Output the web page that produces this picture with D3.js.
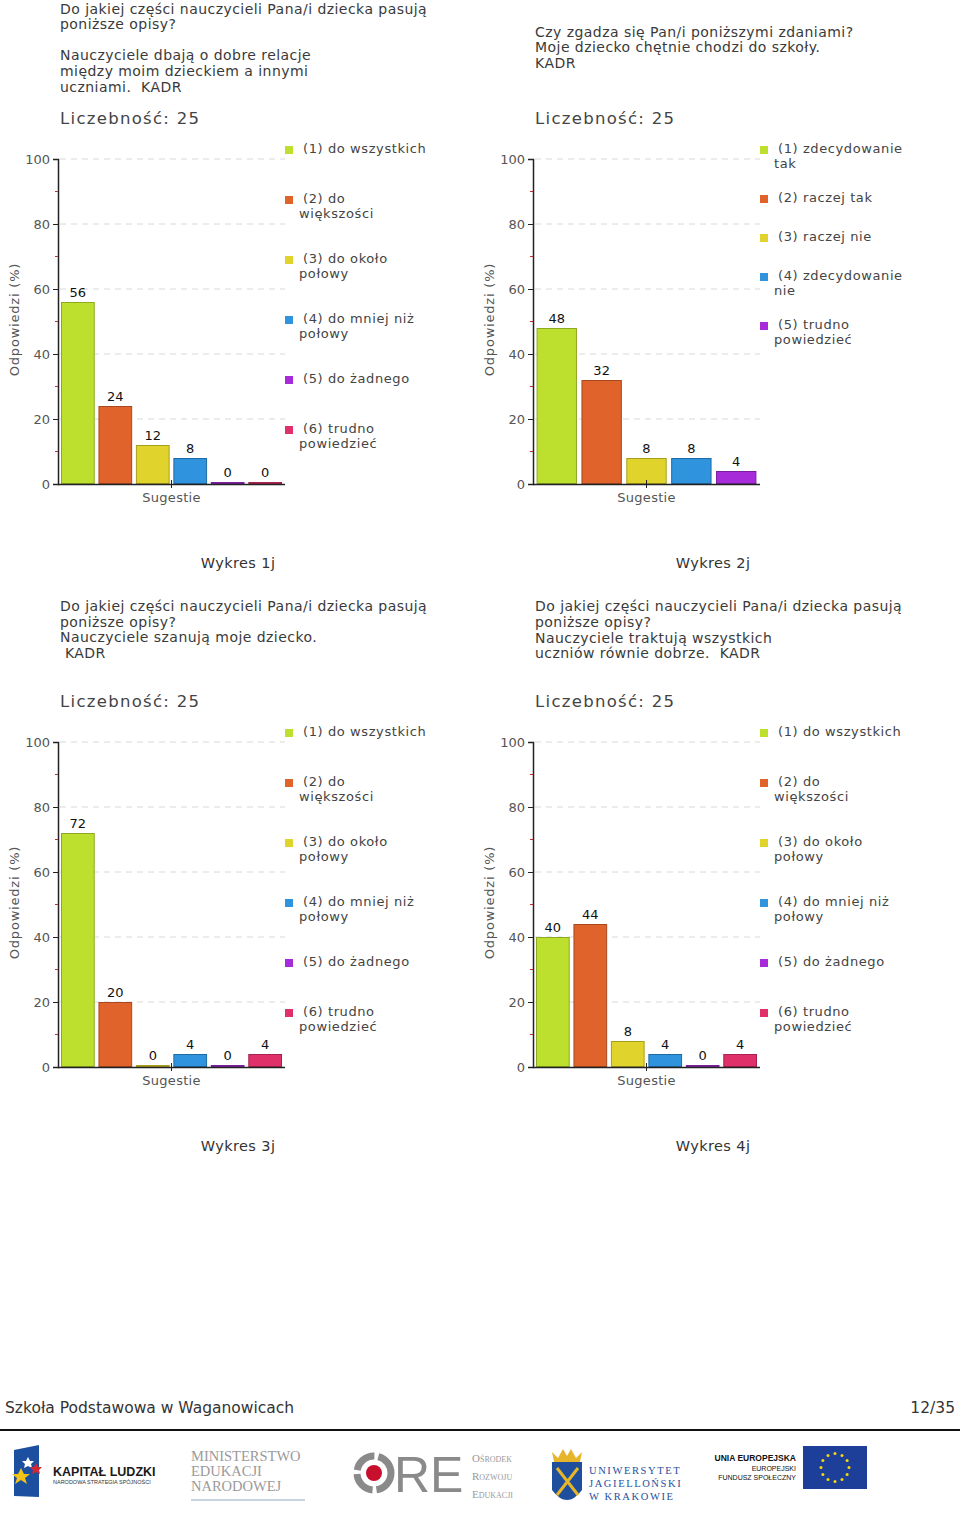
<!DOCTYPE html>
<html><head><meta charset="utf-8">
<script src="https://cdn.jsdelivr.net/npm/d3@7/dist/d3.min.js"></script>
<style>
body{margin:0;background:#fff;}
svg{display:block;font-family:"DejaVu Sans",Verdana,sans-serif;}
text{white-space:pre;}
</style></head>
<body><svg id="c" width="960" height="1518"></svg>
<script>
// ---- data ----
const legend1 = ["(1) do wszystkich","(2) do\nwiększości","(3) do około\npołowy","(4) do mniej niż\npołowy","(5) do żadnego","(6) trudno\npowiedzieć"];
const legend2 = ["(1) zdecydowanie\ntak","(2) raczej tak","(3) raczej nie","(4) zdecydowanie\nnie","(5) trudno\npowiedzieć"];
const values1 = [56,24,12,8,0,0];
const values2 = [48,32,8,8,4];
const values3 = [72,20,0,4,0,4];
const values4 = [40,44,8,4,0,4];
const colors6 = ["#bddf2e","#e0632c","#e0d42c","#2f93dd","#a82bd9","#e0306a"];
const strokes6 = ["#8ea821","#a8481e","#a89e1e","#1f6aa3","#7a1ea0","#a82250"];
const colors5 = ["#bddf2e","#e0632c","#e0d42c","#2f93dd","#a82bd9"];
const strokes5 = ["#8ea821","#a8481e","#a89e1e","#1f6aa3","#7a1ea0"];
const titles1 = ["Do jakiej części nauczycieli Pana/i dziecka pasują","poniższe opisy?","Nauczyciele dbają o dobre relacje","między moim dzieckiem a innymi","uczniami.  KADR"];
const titles2 = ["Czy zgadza się Pan/i poniższymi zdaniami?","Moje dziecko chętnie chodzi do szkoły.","KADR"];
const titles3 = ["Do jakiej części nauczycieli Pana/i dziecka pasują","poniższe opisy?","Nauczyciele szanują moje dziecko."," KADR"];
const titles4 = ["Do jakiej części nauczycieli Pana/i dziecka pasują","poniższe opisy?","Nauczyciele traktują wszystkich","uczniów równie dobrze.  KADR"];
const captions = ["Wykres 1j","Wykres 2j","Wykres 3j","Wykres 4j"];
const countLabel = "Liczebność: 25";
const yTicks = [0,20,40,60,80,100];
const yMinor = [10,30,50,70,90];
const xLabel = "Sugestie";
const yLabel = "Odpowiedzi (%)";
const footerLeft = "Szkoła Podstawowa w Waganowicach";
const footerRight = "12/35";

const svg = d3.select("#c");

const charts = [
  {ox:0, oy:0, values:values1, legend:legend1, colors:colors6, strokes:strokes6, titles:titles1, titleY:14, titleStep:[15,31,16,16], legendBase:40, caption:captions[0]},
  {ox:475, oy:0, values:values2, legend:legend2, colors:colors5, strokes:strokes5, titles:titles2, titleY:37, titleStep:[15,16], legendBase:29, caption:captions[1]},
  {ox:0, oy:583, values:values3, legend:legend1, colors:colors6, strokes:strokes6, titles:titles3, titleY:28, titleStep:[16,15,16], legendBase:40, caption:captions[2]},
  {ox:475, oy:583, values:values4, legend:legend1, colors:colors6, strokes:strokes6, titles:titles4, titleY:28, titleStep:[16,16,15], legendBase:40, caption:captions[3]}
];

charts.forEach(c => drawChart(c));

function drawChart(c){
  const g = svg.append("g").attr("transform",`translate(${c.ox},${c.oy})`);
  // titles
  let ty = c.titleY;
  c.titles.forEach((t,i)=>{
    g.append("text").attr("x",60).attr("y",ty).attr("font-size",14).attr("letter-spacing",0.45).attr("fill","#3a3a3a").text(t);
    ty += c.titleStep[i]||16;
  });
  g.append("text").attr("x",60).attr("y",124).attr("font-size",16.5).attr("letter-spacing",1.3).attr("fill","#444").text(countLabel);

  const left=58, right=285, top=159, bottom=484;
  const y = d3.scaleLinear().domain([0,100]).range([bottom,top]);
  const x = d3.scaleBand().domain(c.values.map((d,i)=>i)).range([left,right]).paddingInner(0.1).paddingOuter(0.08);

  // grid
  g.append("g").selectAll("line").data(yTicks.filter(d=>d>0)).join("line")
    .attr("x1",left+2).attr("x2",right).attr("y1",d=>y(d)).attr("y2",d=>y(d))
    .attr("stroke","#d8d8d8").attr("stroke-dasharray","6,5");

  // bars
  g.append("g").selectAll("rect").data(c.values).join("rect")
    .attr("x",(d,i)=>x(i)+0.5).attr("width",x.bandwidth()-1)
    .attr("y",d=>Math.min(y(d),bottom-2)+0.5).attr("height",d=>Math.max(bottom-y(d),2)-1)
    .attr("fill",(d,i)=>c.colors[i]).attr("stroke",(d,i)=>c.strokes[i]).attr("stroke-width",1);

  // value labels
  g.append("g").selectAll("text").data(c.values).join("text")
    .attr("x",(d,i)=>x(i)+x.bandwidth()/2).attr("y",d=>Math.min(y(d),bottom-2)-5)
    .attr("text-anchor","middle").attr("font-size",13).attr("fill","#111").text(d=>d);

  // y axis
  const ya = d3.axisLeft(y).tickValues(yTicks).tickSize(5).tickPadding(3).tickFormat(d3.format("d"));
  const ag = g.append("g").attr("transform",`translate(${left},0)`).call(ya);
  ag.select(".domain").attr("stroke","#222").attr("stroke-width",1.5);
  ag.selectAll(".tick line").attr("stroke","#222");
  ag.selectAll(".tick text").attr("font-size",13).attr("fill","#555").attr("font-family","DejaVu Sans, sans-serif");
  g.append("g").selectAll("line").data(yMinor).join("line")
    .attr("x1",left-3).attr("x2",left).attr("y1",d=>y(d)).attr("y2",d=>y(d))
    .attr("stroke","#c03030").attr("stroke-width",1);

  // x axis
  g.append("line").attr("x1",left).attr("x2",right).attr("y1",bottom+0.5).attr("y2",bottom+0.5).attr("stroke","#222").attr("stroke-width",1.5);
  const mid=(left+right)/2;
  g.append("line").attr("x1",mid).attr("x2",mid).attr("y1",bottom-4).attr("y2",bottom+4).attr("stroke","#222");
  g.append("text").attr("x",mid).attr("y",502).attr("text-anchor","middle").attr("font-size",13).attr("letter-spacing",0.3).attr("fill","#555").text(xLabel);
  g.append("text").attr("transform",`translate(19,${(top+bottom)/2-2}) rotate(-90)`).attr("text-anchor","middle").attr("font-size",13).attr("letter-spacing",0.8).attr("fill","#555").text(yLabel);

  // legend
  let ly = 153;
  c.legend.forEach((t,i)=>{
    const lines = t.split("\n");
    g.append("rect").attr("x",285).attr("y",ly-7).attr("width",8).attr("height",8).attr("fill",c.colors[i]);
    lines.forEach((ln,j)=>{
      g.append("text").attr("x",j===0?303:299).attr("y",ly+j*15).attr("font-size",13).attr("letter-spacing",0.6).attr("fill","#444").text(ln);
    });
    ly += c.legendBase + 10*lines.length;
  });

  // caption
  g.append("text").attr("x",238).attr("y",568).attr("text-anchor","middle").attr("font-size",14.5).attr("letter-spacing",0.4).attr("fill","#333").text(c.caption);
}

// footer
svg.append("text").attr("x",5).attr("y",1413).attr("font-size",15.5).attr("fill","#333").text(footerLeft);
svg.append("text").attr("x",955).attr("y",1413).attr("text-anchor","end").attr("font-size",15.5).attr("fill","#333").text(footerRight);
svg.append("line").attr("x1",0).attr("x2",960).attr("y1",1430).attr("y2",1430).attr("stroke","#111").attr("stroke-width",2);

// logos (decorative approximations)
const lg = svg.append("g");
// Kapitał Ludzki
lg.append("path").attr("d","M14,1450 L39,1445 L39,1497 L14,1496 Z").attr("fill","#1d4fa0");
lg.append("path").attr("d","M18,1474 l3,-6 l3,6 l6,0 l-5,4 l2,6 l-6,-4 l-6,4 l2,-6 l-5,-4 Z").attr("fill","#f3c417");
lg.append("path").attr("d","M26,1461 l2,-4 l2,4 l4,0 l-3,3 l1,4 l-4,-2 l-4,2 l1,-4 l-3,-3 Z").attr("fill","#fff");
lg.append("path").attr("d","M34,1467 l2,-4 l2,4 l4,0 l-3,3 l1,4 l-4,-2 l-4,2 l1,-4 l-3,-3 Z").attr("fill","#d22630");
lg.append("text").attr("x",53).attr("y",1476).attr("font-size",12.5).attr("font-weight","bold").attr("fill","#1a1a1a").attr("font-family","Liberation Sans, Arial, sans-serif").text("KAPITAŁ LUDZKI");
lg.append("text").attr("x",53).attr("y",1484).attr("font-size",5.5).attr("fill","#333").attr("font-family","Liberation Sans, Arial, sans-serif").text("NARODOWA STRATEGIA SPÓJNOŚCI");
// Ministerstwo
["MINISTERSTWO","EDUKACJI","NARODOWEJ"].forEach((t,i)=>lg.append("text").attr("x",191).attr("y",1461+i*15).attr("font-size",14.5).attr("fill","#9a9a9a").attr("font-family","Liberation Serif, serif").text(t));
lg.append("line").attr("x1",191).attr("x2",305).attr("y1",1500).attr("y2",1500).attr("stroke","#b8c4d8").attr("stroke-width",1.5);
// ORE
lg.append("circle").attr("cx",374).attr("cy",1473).attr("r",17).attr("fill","none").attr("stroke","#8a8a8a").attr("stroke-width",7).attr("stroke-dasharray","24,4");
lg.append("circle").attr("cx",374).attr("cy",1473).attr("r",8).attr("fill","#c8102e");
lg.append("text").attr("x",394).attr("y",1492).attr("font-size",50).attr("fill","#8a8a8a").attr("font-family","Liberation Sans, Arial, sans-serif").text("RE");
["Ośrodek","Rozwoju","Edukacji"].forEach((t,i)=>lg.append("text").attr("x",472).attr("y",1462+i*18).attr("font-size",11).attr("fill","#999").attr("font-variant","small-caps").attr("font-family","Liberation Serif, serif").text(t));
// UJ
lg.append("path").attr("d","M552,1462 L582,1462 L582,1490 Q567,1510 552,1490 Z").attr("fill","#1f4f9c");
lg.append("path").attr("d","M552,1452 L558,1458 L563,1449 L567,1456 L571,1449 L576,1458 L582,1452 L580,1462 L554,1462 Z").attr("fill","#e6b52a");
lg.append("path").attr("d","M557,1468 L578,1495 M578,1468 L557,1495").attr("stroke","#e6b52a").attr("stroke-width",3);
["UNIWERSYTET","JAGIELLOŃSKI","W KRAKOWIE"].forEach((t,i)=>lg.append("text").attr("x",589).attr("y",1474+i*13).attr("font-size",10.5).attr("letter-spacing",1.6).attr("fill","#1f4f9c").attr("font-family","Liberation Serif, serif").text(t));
// UE
lg.append("text").attr("x",796).attr("y",1461).attr("text-anchor","end").attr("font-size",8.5).attr("font-weight","bold").attr("fill","#111").attr("font-family","Liberation Sans, Arial, sans-serif").text("UNIA EUROPEJSKA");
lg.append("text").attr("x",796).attr("y",1471).attr("text-anchor","end").attr("font-size",7).attr("fill","#111").attr("font-family","Liberation Sans, Arial, sans-serif").text("EUROPEJSKI");
lg.append("text").attr("x",796).attr("y",1480).attr("text-anchor","end").attr("font-size",7).attr("fill","#111").attr("font-family","Liberation Sans, Arial, sans-serif").text("FUNDUSZ SPOŁECZNY");
lg.append("rect").attr("x",803).attr("y",1446).attr("width",64).attr("height",43).attr("fill","#1d3f9a");
d3.range(12).forEach(i=>{const a=i*Math.PI/6;lg.append("circle").attr("cx",835+14*Math.cos(a)).attr("cy",1467.5+14*Math.sin(a)).attr("r",1.5).attr("fill","#f5d90a");});
</script></body></html>
